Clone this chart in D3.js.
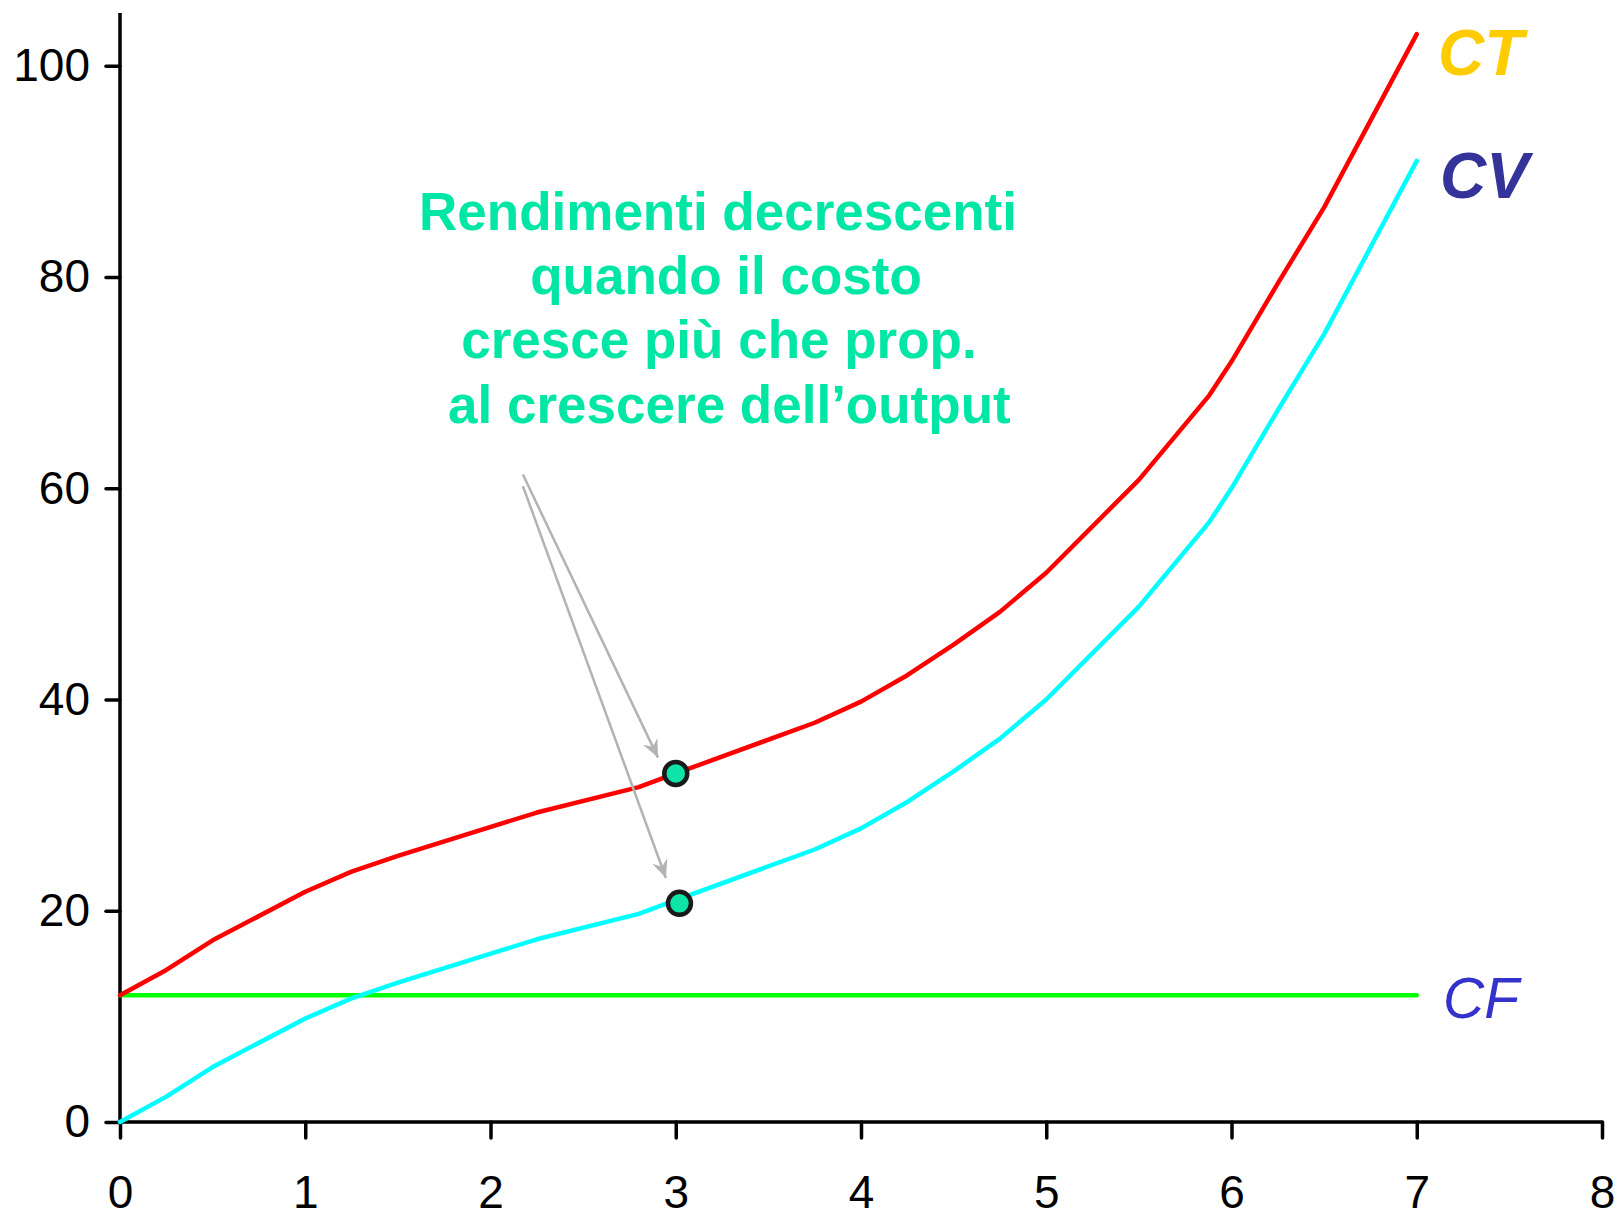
<!DOCTYPE html>
<html>
<head>
<meta charset="utf-8">
<script src="https://cdn.jsdelivr.net/npm/d3@7"></script>
<style>
  html, body { margin: 0; padding: 0; background: #ffffff; }
  svg { display: block; }
</style>
</head>
<body>
<svg id="chart" width="1619" height="1218"></svg>
<script>
// ---- data ----
const quantity = [0, 0.25, 0.5, 1, 1.25, 1.5, 2.25, 2.8, 3, 3.75, 4, 4.25, 4.5, 4.75, 5, 5.5, 5.88, 6, 6.25, 6.5, 7];
const costoTotale = [12, 14.4, 17.2, 21.8, 23.7, 25.2, 29.3, 31.7, 33.0, 37.8, 39.8, 42.3, 45.2, 48.3, 52.0, 60.8, 68.8, 72.0, 79.4, 86.6, 103];
const costoVariabile = [0, 2.4, 5.2, 9.8, 11.7, 13.2, 17.3, 19.7, 21.0, 25.8, 27.8, 30.3, 33.2, 36.3, 40.0, 48.8, 56.8, 60.0, 67.4, 74.6, 91];
const costoFissoX = [0, 7];
const costoFisso = [12, 12];
const xTicks = [0, 1, 2, 3, 4, 5, 6, 7, 8];
const yTicks = [0, 20, 40, 60, 80, 100];
const seriesLabels = ["CT", "CV", "CF"];
const highlightX = [3, 3.02];
const highlightY = [33.0, 20.7];
const arrowFromX = [2.175, 2.175];
const arrowFromY = [61.3, 60.2];
const arrowToX = [2.904, 2.947];
const arrowToY = [34.5, 23.1];
const noteLines = ["Rendimenti decrescenti", "quando il costo", "cresce più che prop.", " al crescere dell\u2019output"];

// ---- scales ----
const svg = d3.select("#chart");
const x = d3.scaleLinear().domain([0, 8]).range([120, 1602]);
const y = d3.scaleLinear().domain([0, 105]).range([1122, 13]);

const font = "'Liberation Sans', Arial, Helvetica, sans-serif";

// ---- axes ----
const yAxis = svg.append("g").attr("transform", `translate(${x(0)},0)`)
  .call(d3.axisLeft(y).tickValues(yTicks).tickSize(14).tickPadding(16).tickSizeOuter(0));
const xAxis = svg.append("g").attr("transform", `translate(0,${y(0)})`)
  .call(d3.axisBottom(x).tickValues(xTicks).tickSize(16).tickPadding(37).tickSizeOuter(0));

[xAxis, yAxis].forEach(g => {
  g.select(".domain").attr("stroke", "#000").attr("stroke-width", 3.5);
  g.selectAll(".tick line").attr("stroke", "#000").attr("stroke-width", 3.5).attr("stroke-linecap", "round");
  g.selectAll(".tick text").attr("fill", "#000").style("font-family", font).style("font-size", "46px");
});
yAxis.select(".domain").attr("d", `M0,${y(0)}V${y(105)}`);
xAxis.select(".domain").attr("d", `M${x(0)},0H${x(8)}`);

// ---- lines ----
const line = d3.line().x(d => x(d[0])).y(d => y(d[1]));
const cfData = costoFissoX.map((q, i) => [q, costoFisso[i]]);
const cvData = quantity.map((q, i) => [q, costoVariabile[i]]);
const ctData = quantity.map((q, i) => [q, costoTotale[i]]);

svg.append("path").datum(cfData).attr("d", line)
  .attr("fill", "none").attr("stroke", "#00ff00").attr("stroke-width", 4.5).attr("stroke-linecap", "round");
svg.append("path").datum(cvData).attr("d", line)
  .attr("fill", "none").attr("stroke", "#00ffff").attr("stroke-width", 4.5).attr("stroke-linecap", "round").attr("stroke-linejoin", "round");
svg.append("path").datum(ctData).attr("d", line)
  .attr("fill", "none").attr("stroke", "#ff0000").attr("stroke-width", 4.5).attr("stroke-linecap", "round").attr("stroke-linejoin", "round");

// ---- series labels ----
svg.append("text").text(seriesLabels[0]).attr("x", 1438).attr("y", 75)
  .style("font-family", font).style("font-size", "64px").style("font-weight", "bold").style("font-style", "italic")
  .attr("fill", "#ffcc00");
svg.append("text").text(seriesLabels[1]).attr("x", 1440).attr("y", 198)
  .style("font-family", font).style("font-size", "64px").style("font-weight", "bold").style("font-style", "italic")
  .attr("fill", "#333399");
svg.append("text").text(seriesLabels[2]).attr("x", 1443).attr("y", 1018)
  .style("font-family", font).style("font-size", "57px").style("font-style", "italic")
  .attr("fill", "#3333cc");

// ---- annotation ----
const defs = svg.append("defs");
defs.append("marker").attr("id", "ah").attr("viewBox", "-20 -10 22 20")
  .attr("refX", 0).attr("refY", 0).attr("markerWidth", 22).attr("markerHeight", 20)
  .attr("markerUnits", "userSpaceOnUse").attr("orient", "auto")
  .append("path").attr("d", "M0,0 L-18,-8 L-12,0 L-18,8 Z").attr("fill", "#b3b3b3");

arrowFromX.forEach((fx, i) => {
  svg.append("line")
    .attr("x1", x(fx)).attr("y1", y(arrowFromY[i]))
    .attr("x2", x(arrowToX[i])).attr("y2", y(arrowToY[i]))
    .attr("stroke", "#b3b3b3").attr("stroke-width", 2.5)
    .attr("marker-end", "url(#ah)");
});

const noteX = [718, 726, 719, 722];
const noteY = [230, 294, 358, 423];
noteLines.forEach((t, i) => {
  svg.append("text").text(t)
    .attr("x", noteX[i]).attr("y", noteY[i])
    .attr("text-anchor", "middle")
    .style("font-family", font).style("font-size", "53px").style("font-weight", "bold")
    .style("white-space", "pre")
    .attr("fill", "#00e6a5");
});

// ---- highlighted points ----
svg.selectAll("circle.hl").data(highlightX).enter().append("circle")
  .attr("class", "hl")
  .attr("cx", d => x(d)).attr("cy", (d, i) => y(highlightY[i]))
  .attr("r", 11.5).attr("fill", "#0ee3a8").attr("stroke", "#1a1a1a").attr("stroke-width", 4.5);
</script>
</body>
</html>
